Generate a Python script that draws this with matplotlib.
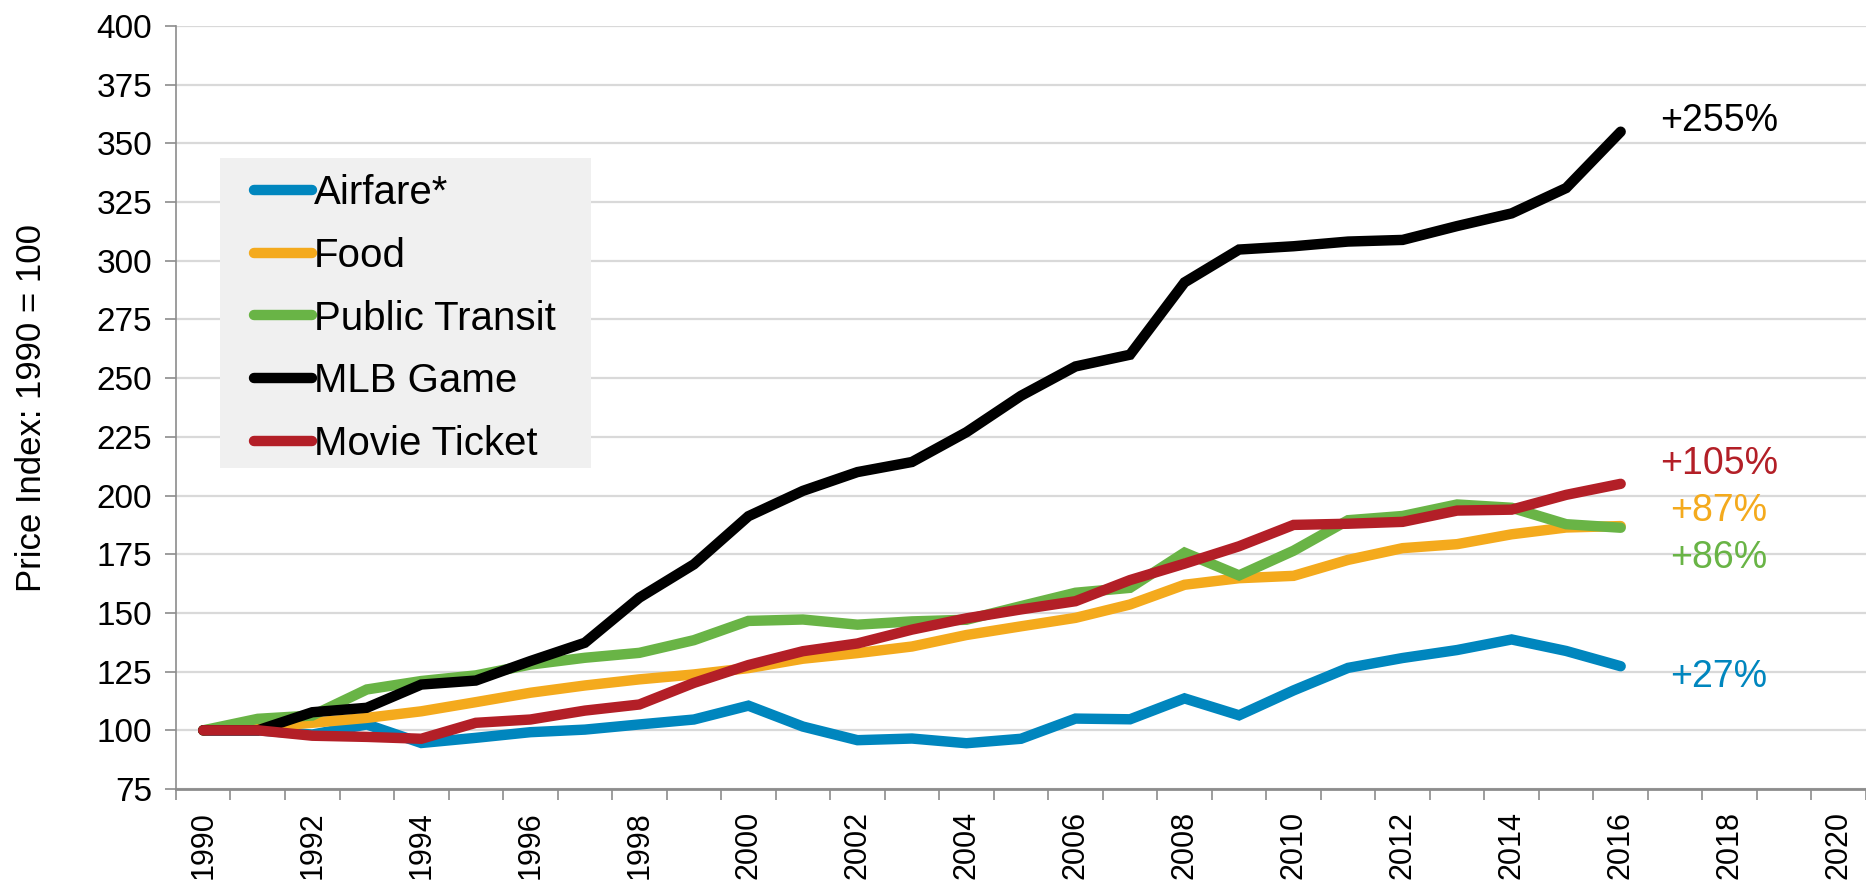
import matplotlib
matplotlib.use('Agg')
import matplotlib.pyplot as plt
from matplotlib.ticker import MultipleLocator, FixedLocator
from matplotlib.patches import Rectangle

plt.rcParams['font.family'] = ['Liberation Sans', 'DejaVu Sans']

years = list(range(1990, 2017))

airfare = [100, 100, 98.2, 102.5, 94.6, 96.8, 99.2, 100.3, 102.5, 104.6,
           110.5, 101.6, 95.8, 96.5, 94.5, 96.4, 105, 104.7, 113.6, 106.4,
           117, 126.6, 130.8, 134.2, 138.7, 133.8, 127.3]
food = [100, 101.5, 103.2, 105.3, 108.1, 112, 116, 119.1, 121.7, 123.8,
        126.5, 130.5, 132.9, 135.7, 140.6, 144.3, 147.9, 153.6, 162, 164.8,
        165.8, 172.6, 177.6, 179.3, 183.5, 186.4, 187]
transit = [100, 104.9, 106.3, 117.4, 121, 123.4, 128, 130.9, 133, 138.4,
           146.6, 147.2, 145, 146.4, 147.1, 152.9, 158.6, 160.7, 175.7, 166,
           176.5, 189.5, 191.3, 196.2, 194.8, 187.8, 186.3]
mlb = [100, 100, 107.7, 109.6, 119.5, 121.2, 129.5, 137.3, 156.5, 170.7,
       191.2, 202, 210, 214.3, 227, 242.5, 255, 260, 290.8, 304.8,
       306.2, 308.2, 308.9, 314.8, 320.2, 331, 355]
movie = [100, 100, 97.7, 97.2, 96.4, 103.2, 104.6, 108.4, 111, 120.2,
         127.8, 133.7, 137, 142.9, 147.7, 151.5, 155, 164, 171, 178.4,
         187.5, 188, 188.8, 193.6, 194, 200.3, 205]

series_names = ['Airfare*', 'Food', 'Public Transit', 'MLB Game', 'Movie Ticket']
series_colors = ['#0086BE', '#F4AA1D', '#69B446', '#000000', '#B31F27']
series_values = [airfare, food, transit, mlb, movie]

change_labels = ['+27%', '+87%', '+86%', '+255%', '+105%']
label_y = [122.5, 193.5, 173.5, 359.5, 213.5]
label_x = 2017.8

fig = plt.figure(figsize=(18.66, 8.8), dpi=100)
ax = fig.add_axes([0.0943, 0.1034, 0.9057, 0.867])

for name, color, vals in zip(series_names, series_colors, series_values):
    ax.plot(years, vals, color=color, lw=7.5, label=name,
            solid_capstyle='round', solid_joinstyle='miter', zorder=3)

for txt, color, y in zip(change_labels, series_colors, label_y):
    ax.text(label_x, y, txt, color=color, fontsize=27, ha='center', va='center')

ax.set_xlim(1989.5, 2020.5)
ax.set_ylim(75, 400)
ax.yaxis.set_major_locator(MultipleLocator(25))
ax.grid(axis='y', color='#d9d9d9', lw=1.6, zorder=0)
ax.set_axisbelow(True)

ax.xaxis.set_major_locator(FixedLocator(list(range(1990, 2021, 2))))
ax.xaxis.set_minor_locator(FixedLocator([y + 0.5 for y in range(1989, 2021)]))
ax.tick_params(axis='x', which='major', length=0, pad=16, labelsize=22,
               labelrotation=90)
ax.tick_params(axis='x', which='minor', length=8, width=1.2, color='#8c8c8c',
               direction='out')
ax.tick_params(axis='y', length=8, width=1.2, color='#8c8c8c', pad=9,
               labelsize=24)

for s in ['top', 'right']:
    ax.spines[s].set_visible(False)
ax.spines['left'].set_color('#8c8c8c')
ax.spines['left'].set_linewidth(1.2)
ax.spines['bottom'].set_color('#8c8c8c')
ax.spines['bottom'].set_linewidth(2)

ax.set_ylabel('Price Index: 1990 = 100', fontsize=25, labelpad=35)

# gray legend panel
ax.add_patch(Rectangle((0.026, 0.4207), 0.2196, 0.4063, transform=ax.transAxes,
                       facecolor='#f0f0f0', edgecolor='none', zorder=4))
leg = ax.legend(loc='upper left', bbox_to_anchor=(0.0459, 0.8055),
                borderaxespad=0, borderpad=0, fontsize=29, frameon=False,
                handlelength=1.45, handletextpad=0.05, labelspacing=0.61)
leg.set_zorder(5)

fig.savefig('out.png', dpi=100)
